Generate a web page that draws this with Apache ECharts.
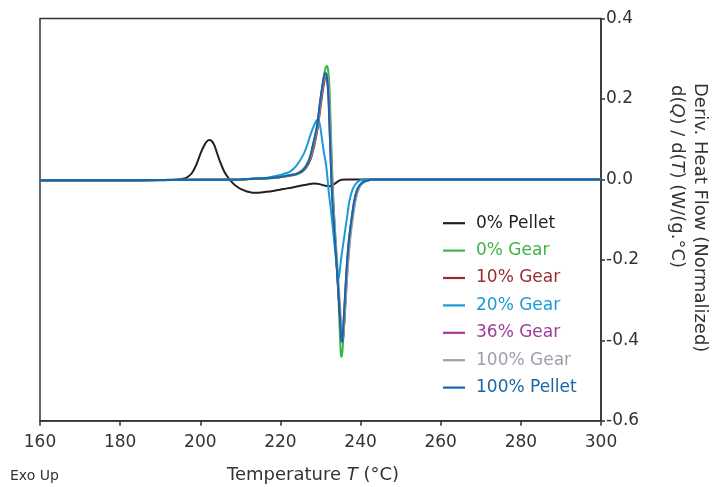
<!DOCTYPE html>
<html>
<head>
<meta charset="utf-8">
<script src="https://cdn.jsdelivr.net/npm/echarts@6/dist/echarts.min.js"></script>
<style>
html,body{margin:0;padding:0;background:#fff;}
#chart{width:712px;height:487px;}
</style>
</head>
<body>
<div id="chart"></div>
<script>
// ---- Data ----
var xTicks = [160, 180, 200, 220, 240, 260, 280, 300];
var yTicks = [-0.6, -0.4, -0.2, 0.0, 0.2, 0.4];

var pellet0T = [160, 180, 190, 194, 196, 197, 198, 199, 200, 201, 201.7, 202.2, 202.8, 203.5, 204.2, 205, 206, 207, 208, 209, 210.3, 211.6, 213, 214.5, 216.5, 218.5, 220.7, 223, 225, 227, 228.3, 229.2, 230.2, 231.2, 232.2, 233.2, 234.2, 235.2, 236.5, 240, 260, 300];
var pellet0V = [-0.003, -0.003, -0.002, -0.001, 0.002, 0.007, 0.017, 0.036, 0.063, 0.085, 0.095, 0.098, 0.096, 0.085, 0.065, 0.042, 0.019, 0.004, -0.008, -0.017, -0.025, -0.03, -0.033, -0.033, -0.031, -0.028, -0.024, -0.02, -0.016, -0.012, -0.01, -0.011, -0.013, -0.016, -0.017, -0.013, -0.006, -0.001, 0, 0, 0, 0];

var gear0T = [160, 180, 200, 210, 215, 218, 220, 222.5, 224, 225.5, 226.5, 227.4, 228.3, 229.2, 230.0, 230.5, 230.9, 231.3, 231.6, 231.9, 232.2, 232.6, 233.0, 233.4, 234.0, 234.5, 234.9, 235.1, 235.3, 235.6, 236.0, 236.6, 237.2, 237.9, 238.5, 239.1, 239.9, 240.8, 241.9, 243, 250, 270, 300];
var gear0V = [-0.002, -0.002, -0.001, 0.0, 0.002, 0.003, 0.005, 0.009, 0.012, 0.019, 0.03, 0.048, 0.08, 0.125, 0.19, 0.232, 0.26, 0.278, 0.282, 0.272, 0.235, 0.12, 0.0, -0.09, -0.2, -0.3, -0.4, -0.438, -0.441, -0.41, -0.34, -0.235, -0.155, -0.097, -0.057, -0.031, -0.014, -0.006, -0.002, 0, 0, 0, 0];

var gear10T = [160, 180, 200, 210, 215, 218, 220, 222.5, 224, 225.5, 226.6, 227.6, 228.4, 229.3, 230.0, 230.5, 230.9, 231.2, 231.5, 231.8, 232.1, 232.5, 232.95, 233.4, 234.0, 234.6, 235.1, 235.35, 235.5, 235.7, 236.1, 236.7, 237.3, 238.0, 238.6, 239.2, 240.0, 240.9, 242.0, 243.2, 250, 270, 300];
var gear10V = [-0.002, -0.002, -0.001, 0.0, 0.002, 0.004, 0.006, 0.01, 0.014, 0.021, 0.033, 0.052, 0.082, 0.128, 0.178, 0.215, 0.24, 0.254, 0.256, 0.248, 0.21, 0.09, -0.02, -0.1, -0.2, -0.3, -0.37, -0.396, -0.4, -0.39, -0.33, -0.225, -0.15, -0.094, -0.055, -0.03, -0.014, -0.006, -0.002, 0, 0, 0, 0];

var gear20T = [160, 180, 200, 210, 214, 217, 220, 222.4, 224, 225.7, 226.6, 227.4, 228.2, 228.8, 229.3, 229.8, 230.3, 230.8, 231.2, 231.6, 232.0, 232.5, 233.0, 233.6, 234.1, 234.4, 234.7, 235.2, 235.8, 236.5, 237.2, 237.9, 238.6, 239.3, 240.0, 241.5, 250, 270, 300];
var gear20V = [-0.002, -0.002, -0.001, 0.0, 0.002, 0.005, 0.011, 0.019, 0.034, 0.061, 0.083, 0.108, 0.13, 0.143, 0.148, 0.138, 0.106, 0.07, 0.048, 0.018, -0.026, -0.068, -0.114, -0.172, -0.222, -0.248, -0.236, -0.193, -0.151, -0.103, -0.055, -0.028, -0.014, -0.006, -0.002, 0, 0, 0, 0];

var gear36T = [160, 180, 200, 210, 215, 218, 220, 222.5, 224, 225.5, 226.5, 227.4, 228.2, 229.1, 229.85, 230.3, 230.7, 231.0, 231.3, 231.6, 231.95, 232.4, 232.8, 233.2, 233.8, 234.4, 234.9, 235.15, 235.3, 235.5, 235.9, 236.5, 237.1, 237.8, 238.4, 239.0, 239.8, 240.7, 241.8, 243, 250, 270, 300];
var gear36V = [-0.002, -0.002, -0.001, 0.0, 0.002, 0.004, 0.006, 0.011, 0.014, 0.023, 0.035, 0.055, 0.088, 0.13, 0.188, 0.22, 0.245, 0.258, 0.26, 0.25, 0.21, 0.09, -0.02, -0.09, -0.18, -0.27, -0.35, -0.39, -0.403, -0.394, -0.33, -0.225, -0.15, -0.095, -0.055, -0.03, -0.014, -0.006, -0.002, 0, 0, 0, 0];

var gear100T = [160, 180, 200, 210, 215, 218, 220, 222.5, 224, 225.5, 226.5, 227.5, 228.3, 229.2, 229.95, 230.4, 230.8, 231.2, 231.5, 231.8, 232.15, 232.6, 233.0, 233.4, 234.0, 234.6, 235.1, 235.35, 235.5, 235.7, 236.1, 236.8, 237.4, 238.1, 238.7, 239.3, 240.1, 241.0, 242.1, 243.3, 250, 270, 300];
var gear100V = [-0.002, -0.002, -0.001, 0.0, 0.002, 0.004, 0.006, 0.011, 0.014, 0.022, 0.034, 0.054, 0.086, 0.128, 0.186, 0.22, 0.245, 0.26, 0.263, 0.252, 0.212, 0.09, -0.02, -0.09, -0.18, -0.27, -0.35, -0.39, -0.398, -0.39, -0.33, -0.222, -0.15, -0.095, -0.055, -0.03, -0.014, -0.006, -0.002, 0, 0, 0, 0];

var pellet100T = [160, 180, 200, 210, 215, 218, 220, 222.5, 224, 225.5, 226.5, 227.4, 228.2, 229.1, 229.85, 230.3, 230.7, 231.0, 231.3, 231.6, 231.95, 232.4, 232.8, 233.2, 233.8, 234.4, 234.9, 235.15, 235.3, 235.5, 235.9, 236.5, 237.1, 237.8, 238.4, 239.0, 239.8, 240.7, 241.8, 243, 250, 270, 300];
var pellet100V = [-0.002, -0.002, -0.001, 0.0, 0.002, 0.004, 0.006, 0.011, 0.013, 0.022, 0.035, 0.056, 0.09, 0.131, 0.19, 0.222, 0.247, 0.262, 0.264, 0.255, 0.214, 0.09, -0.02, -0.09, -0.18, -0.27, -0.35, -0.39, -0.404, -0.395, -0.33, -0.225, -0.15, -0.095, -0.055, -0.03, -0.014, -0.006, -0.002, 0, 0, 0, 0];

var seriesNames = ['0% Pellet', '0% Gear', '10% Gear', '20% Gear', '36% Gear', '100% Gear', '100% Pellet'];
var seriesColors = ['#231f20', '#3db449', '#9b2b2e', '#1a9bd7', '#a3399a', '#9ba0ab', '#1866a6'];
var seriesT = [pellet0T, gear0T, gear10T, gear20T, gear36T, gear100T, pellet100T];
var seriesV = [pellet0V, gear0V, gear10V, gear20V, gear36V, gear100V, pellet100V];
// drawing order (last on top)
var drawOrder = [0, 1, 2, 4, 5, 3, 6];

var FONT = 'DejaVu Sans';

function zip(t, v) { var out = []; for (var i = 0; i < t.length; i++) out.push([t[i], v[i]]); return out; }

var series = drawOrder.map(function (k) {
  return {
    name: seriesNames[k],
    type: 'line',
    data: zip(seriesT[k], seriesV[k]),
    symbol: 'none',
    showSymbol: false,
    smooth: 0.3,
    lineStyle: { width: 2, color: seriesColors[k] },
    itemStyle: { color: seriesColors[k] },
    z: 2 + drawOrder.indexOf(k),
    animation: false
  };
});

var italicRich = { i: { fontStyle: 'italic', fontSize: 18, fontFamily: FONT, fill: '#333' } };

var chart = echarts.init(document.getElementById('chart'), null, { renderer: 'canvas' });
chart.setOption({
  animation: false,
  backgroundColor: '#ffffff',
  textStyle: { fontFamily: FONT },
  grid: { left: 40, right: 111, top: 18.5, bottom: 66.3, show: true, borderColor: '#333', borderWidth: 1.5, backgroundColor: 'transparent' },
  xAxis: {
    type: 'value', min: xTicks[0], max: xTicks[xTicks.length - 1], interval: 20,
    axisLine: { show: true, onZero: false, lineStyle: { color: '#333', width: 1.5 } },
    axisTick: { show: true, inside: false, length: 5, lineStyle: { color: '#333', width: 1.5 } },
    axisLabel: { fontSize: 17, color: '#333', margin: 13, fontFamily: FONT },
    splitLine: { show: false }
  },
  yAxis: {
    type: 'value', position: 'right', min: yTicks[0], max: yTicks[yTicks.length - 1], interval: 0.2,
    axisLine: { show: true, onZero: false, lineStyle: { color: '#333', width: 1.5 } },
    axisTick: { show: true, inside: false, length: 4, lineStyle: { color: '#333', width: 1.5 } },
    axisLabel: { fontSize: 17, color: '#333', margin: 5, fontFamily: FONT,
      formatter: function (v) { if (Math.abs(v) < 1e-9) return '0.0'; return v.toFixed(1); } },
    splitLine: { show: false }
  },
  legend: {
    orient: 'vertical', left: 438, top: 208.2,
    itemWidth: 22, itemHeight: 2.2, itemGap: 7.4,
    icon: 'rect',
    data: seriesNames.map(function (n, i) { return { name: n, icon: 'rect', itemStyle: { color: seriesColors[i] }, textStyle: { color: seriesColors[i] } }; }),
    textStyle: { fontSize: 17, fontFamily: FONT, lineHeight: 20, padding: [0, 0, 0, 6] },
    selectedMode: false
  },
  graphic: [
    { type: 'text', left: 10, top: 469, style: { text: 'Exo Up', fontSize: 14, fontFamily: FONT, fill: '#333' } },
    { type: 'text', x: 313, y: 475, style: {
        text: 'Temperature {i|T} (°C)', fontSize: 18, fontFamily: FONT, fill: '#333', align: 'center', verticalAlign: 'middle',
        rich: italicRich } },
    { type: 'text', x: 700, y: 83, rotation: -Math.PI / 2, style: {
        text: 'Deriv. Heat Flow (Normalized)', fontSize: 18, fontFamily: FONT, fill: '#333', align: 'left', verticalAlign: 'middle' } },
    { type: 'text', x: 677, y: 85, rotation: -Math.PI / 2, style: {
        text: 'd({i|Q}) / d({i|T}) (W/(g.°C)', fontSize: 18, fontFamily: FONT, fill: '#333', align: 'left', verticalAlign: 'middle',
        rich: italicRich } }
  ],
  series: series
});
</script>
</body>
</html>
